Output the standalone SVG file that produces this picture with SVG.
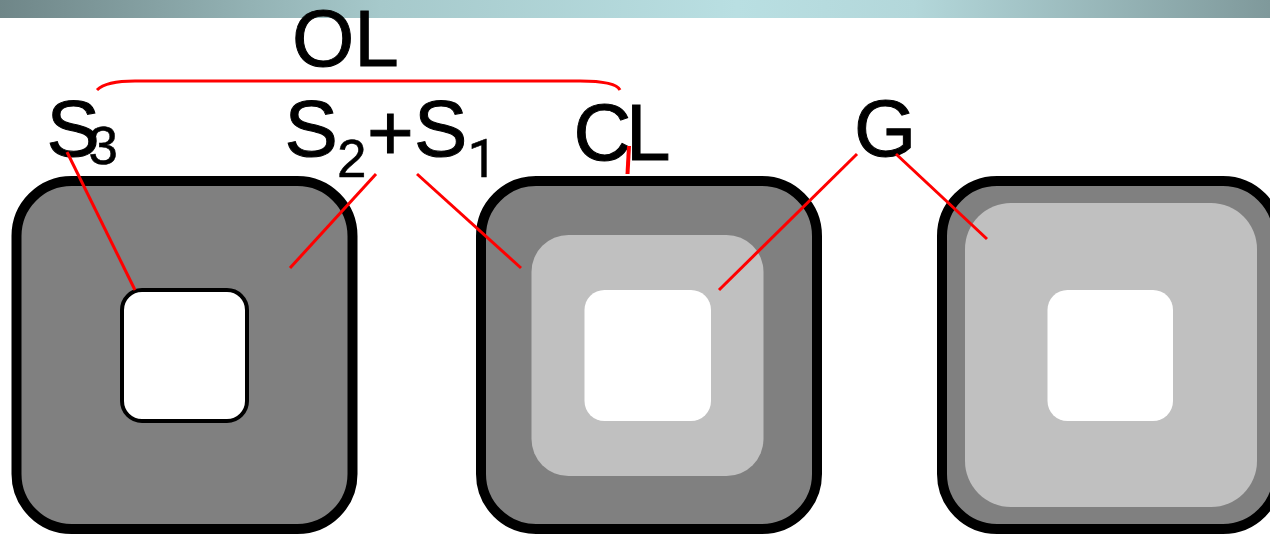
<svg xmlns="http://www.w3.org/2000/svg" width="1270" height="535" viewBox="0 0 1270 535">
<style>
.outer{fill:#808080;stroke:#000;stroke-width:10}
.mid{fill:#c0c0c0}
.hole{fill:#fff}
.t{font-family:"Liberation Sans",Arial,sans-serif;font-size:80px;fill:#000;stroke:#000;stroke-width:1}
.s{font-family:"Liberation Sans",Arial,sans-serif;font-size:53px;fill:#000;stroke:#000;stroke-width:.5}
.one{font-family:Roboto,"Liberation Sans",sans-serif}
.r{fill:none;stroke:#f00;stroke-width:3}
.thick{stroke-width:4}
</style>
<defs><linearGradient id="bar" x1="0" x2="1" y1="0" y2="0">
<stop offset="0" stop-color="#6f8688"/><stop offset="0.3" stop-color="#a6c9cb"/><stop offset="0.58" stop-color="#b9dfe2"/><stop offset="0.72" stop-color="#b3d7da"/><stop offset="1" stop-color="#7f999b"/></linearGradient></defs>
<rect id="topbar" x="0" y="0" width="1270" height="18" fill="url(#bar)"/>
<g id="node-a">
<rect class="outer" x="16.5" y="181" width="336" height="348" rx="55" ry="55"/>
<rect class="hole" x="122" y="290" width="125" height="131" rx="20" ry="20" stroke="#000" stroke-width="4"/>
</g>
<g id="node-b">
<rect class="outer" x="481" y="181" width="336" height="348" rx="55" ry="55"/>
<rect class="mid" x="531.5" y="235" width="232" height="241" rx="37" ry="37"/>
<rect class="hole" x="584.500" y="290" width="126.500" height="131" rx="20" ry="20"/>
</g>
<g id="node-c">
<rect class="outer" x="942" y="181" width="336" height="348" rx="55" ry="55"/>
<rect class="mid" x="965" y="203" width="292" height="304" rx="46" ry="46"/>
<rect class="hole" x="1047.500" y="290" width="125.500" height="131" rx="20" ry="20"/>
</g>
<g id="labels">
<text class="t" x="292" y="66">OL</text>
<text class="t" x="46.500" y="156">S</text>
<text class="s" x="88.500" y="164">3</text>
<text class="t" x="284.500" y="156">S</text>
<text class="s" x="337" y="176.500">2</text>
<text class="t" x="367" y="160">+</text>
<text class="t" x="414" y="156">S</text>
<text class="s one" x="467.500" y="176.500">1</text>
<text class="t" x="573.500" y="160">C</text>
<text class="t" x="626" y="160">L</text>
<text class="t" x="854" y="156">G</text>
</g>
<g id="connectors">
<path class="r" d="M97 90C103 84 115 81 135 81H580C603 81 617 84 620 90"/>
<line class="r" x1="67" y1="152" x2="135" y2="290"/>
<line class="r" x1="376" y1="174" x2="290" y2="268"/>
<line class="r" x1="417" y1="174" x2="521" y2="268"/>
<line class="r thick" x1="629" y1="146" x2="627.500" y2="174"/>
<line class="r" x1="857" y1="154" x2="719" y2="290"/>
<line class="r" x1="896" y1="154" x2="987" y2="239"/>
</g>
</svg>
